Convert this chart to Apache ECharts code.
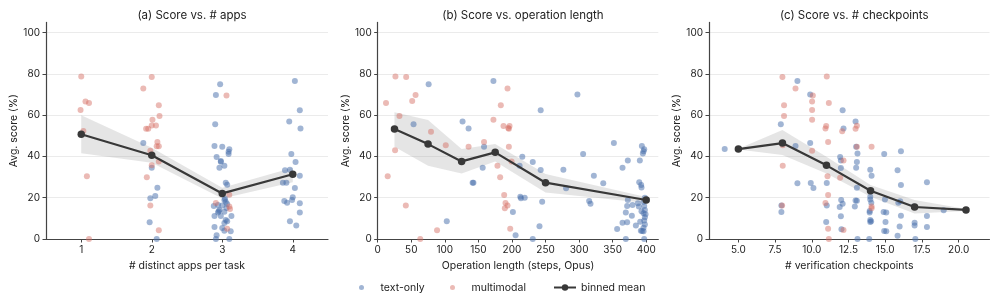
<!DOCTYPE html>
<html>
<head>
<meta charset="utf-8">
<script src="https://cdn.jsdelivr.net/npm/echarts@6/dist/echarts.min.js"></script>
<style>
  html, body { margin: 0; padding: 0; background: #fff; }
  #main { width: 997px; height: 305px; }
</style>
</head>
<body>
<div id="main"></div>
<script>
// panel titles / axis names
var titles = ['(a) Score vs. # apps', '(b) Score vs. operation length', '(c) Score vs. # checkpoints']
var xNames = ['# distinct apps per task', 'Operation length (steps, Opus)', '# verification checkpoints']

// tick labels
var yTicks = [0, 20, 40, 60, 80, 100]
var appsTicks = [1, 2, 3, 4]
var lenTicks = [0, 50, 100, 150, 200, 250, 300, 350, 400]
var ckTicks = [5, 7.5, 10, 12.5, 15, 17.5, 20]

// (a) apps: [x (jittered), score]
var appsText = [[1.88,46.5],[2.0,34.6],[2.08,24.9],[2.05,20.8],[1.98,19.7],[1.97,8.1],[2.07,0],
  [2.97,75],[2.91,69.8],[2.9,55.6],[2.89,45.1],[3.0,44.7],[3.1,43.5],[3.09,42.3],[3.09,41.2],[2.92,39.7],
  [2.98,37.8],[2.98,37.5],[3.03,35.5],[2.96,34.6],[3.05,27.3],[3.07,26.3],[3.03,18.9],[3.05,17.9],[3.07,17],
  [2.94,16.5],[2.88,16],[3.0,16.3],[2.96,14],[3.03,13.2],[2.94,12.8],[2.95,13.5],[2.89,11.1],[2.98,11.1],
  [3.13,11.1],[3.05,9.2],[3.07,8.6],[3.03,7.8],[2.89,5.8],[3.0,5.3],[3.03,4],[3.12,3.7],[2.92,1.8],[2.91,0],
  [3.1,0],[3.04,19.5],[3.06,15],
  [4.03,76.6],[4.1,62.4],[3.95,57],[4.11,53.6],[3.98,41.2],[4.04,37.3],[3.89,33.3],[3.96,33.6],[4.1,30.7],
  [3.86,27.3],[3.91,27.3],[4.03,24.7],[3.88,18.4],[3.92,17.6],[3.99,18.9],[4.0,20.2],[4.1,17.3],[4.1,12.8],
  [3.96,8.6],[4.05,6.6]]
var appsMulti = [[1.0,78.8],[1.06,66.7],[1.11,65.9],[0.99,62.5],[1.03,52.3],[1.08,30.4],[1.11,0],
  [2.0,78.5],[1.88,73],[2.1,64.8],[2.11,59.6],[2.01,57.8],[1.92,53.5],[1.95,53.5],[2.0,55],[2.06,55],
  [2.08,47],[2.07,45],[2.1,45],[1.98,42.8],[2.0,35.7],[2.1,37.6],[1.93,29.9],[1.98,16.2],[2.1,4.2],
  [3.06,69.6],[3.1,21.5],[2.91,17.4],[3.1,15.7],[3.11,14.5],[3.07,5]]
var appsBinX = [1, 2, 3, 4]
var appsMean = [50.8, 40.6, 22.1, 31.4]
var appsHi = [60, 44.2, 24.8, 34.5]
var appsLo = [41.6, 37, 19.6, 27.5]

// (b) operation length
var lenText = [[75.9,75],[53.4,55.6],[102.9,8.6],[126.4,57],[135.4,53.6],[141.4,27.3],[142.6,27.3],[156.4,34.6],
  [158.4,44.7],[172.4,76.6],[201.4,13.1],[205.4,1.8],[212.4,20.5],[213.4,19.7],[219,20],[215.4,39.9],
  [211.4,35.5],[231,37.3],[231,0],[241,6.2],[245,18],[242.8,62.4],[242.8,33.4],[276.6,33.6],[280.6,24.6],
  [297.5,70],[306,41.2],[315,18.4],[317,17.1],[322,30.7],[336,27],[351.8,46.5],[356.7,4.8],[364.7,34.6],
  [364.7,7.9],[369.6,0],[369.6,12.8],[371.6,16],[372.6,18.9],[372.6,38],[371.6,8.1],[378.6,11.3],[379.6,16.5],
  [384.6,6.5],[387.6,17.3],[389.6,27.5],[390.5,38],[392.5,26.2],[393,25],[393.5,45.1],[395,41.5],[396,42.5],
  [397,43.5],[389,15.7],[391,8.4],[392,4],[394,3.9],[396,3.7],[397,0],[396,18],[397,16],[398,14],[396,12.5],
  [398,10.5],[397,9],[398,7],[396,5.5],[398,20],[393,13.5],[399,12]]
var lenMulti = [[12.4,65.9],[26.4,78.8],[42.4,78.5],[56.4,69.8],[51.4,66.9],[32.4,59.6],[25.9,43],[14.9,30.4],
  [41.9,16.2],[63.4,0],[79.4,52],[101.4,45.4],[88.4,4.2],[135.4,44.7],[158.4,47],[172.4,57.8],[183.4,64.8],
  [193.4,73],[187.4,54.8],[196.4,54.8],[195.4,53.5],[194.6,53.8],[195.4,44.7],[199.4,37.6],[178.4,35.5],
  [182.4,29.9],[188.4,21.3],[190.4,17.4],[193.4,16.2],[189.4,14.9],[197.4,5]]
var lenBinX = [25, 75, 125, 175, 250, 400]
var lenMean = [53.3, 46, 37.6, 42, 27.3, 18.9]
var lenHi = [61.4, 57.7, 43.6, 46, 31.5, 20.4]
var lenLo = [44.7, 35.5, 31.8, 37.6, 22.5, 17.4]

// (c) verification checkpoints
var ckText = [[4.07,43.6],[7.89,55.6],[9.02,76.6],[9.89,70],[8.89,45.1],[9.89,46.5],[9.02,27],[9.93,27.1],
  [10.11,24.7],[7.93,16.2],[7.93,13.1],[11.02,27.1],[11.02,16.3],[10.98,8.2],[12.1,62.4],[12.16,53.6],
  [11.93,39.7],[11.98,38],[11.98,34.4],[12.0,18.9],[12.1,17.1],[11.9,15.5],[11.98,11],[12.02,4.7],[12.98,57],
  [13.02,44.7],[13.11,41.4],[13.07,37.3],[13.02,34.6],[13.07,24.9],[12.98,18.7],[13.07,18.6],[12.93,15.7],
  [13.11,0],[13.98,33.6],[14.07,30.7],[13.98,20.5],[13.98,19.2],[14.05,17.6],[13.94,13.6],[13.94,12.8],
  [13.98,9.2],[13.98,8.2],[14.04,8.6],[13.91,0],[14.93,41.2],[16.07,42.5],[14.98,19.2],[14.89,13.1],
  [15.07,12.8],[15.02,8.2],[14.93,3.9],[15.07,3.7],[15.84,33.3],[16.07,26.2],[16.02,18.3],[15.89,17.6],
  [16.07,11.3],[15.98,6.1],[15.84,1.6],[16.95,15.7],[17.0,7.9],[17.0,6.6],[17.05,0],[17.84,27.5],
  [17.84,11.1],[17.84,5.8],[18.98,13.9]]
var ckMulti = [[8.0,78.5],[8.89,73],[8.11,64.8],[8.11,59.6],[8.02,45.4],[8.02,35.5],[7.98,16.2],[10.07,69.6],
  [10.02,66.7],[10.02,62.5],[10.02,57.8],[10.02,42.8],[11.02,78.8],[11.16,65.9],[10.98,54.8],[10.93,53.6],
  [11.11,47],[11.07,30.4],[11.11,21.3],[10.93,17.4],[11.11,5],[11.16,0],[12.07,52.2],[12.16,38],[11.93,29.7],
  [12.16,4.4],[12.98,53.5],[13.07,54.9],[13.07,44.7],[14.07,44.7],[14.07,15.7],[14.07,14.9]]
var ckBinX = [5, 8, 11, 14, 17, 20.5]
var ckMean = [43.6, 46.5, 35.7, 23.4, 15.5, 14.1]
var ckHi = [43.8, 52.8, 39.9, 26.2, 18.9, 14.6]
var ckLo = [43.4, 40.7, 31.8, 20.5, 12.4, 13.6]

var FONT = 'Inter'
var BLUE = 'rgba(70,110,170,0.64)'
var RED = 'rgba(214,110,100,0.6)'
var DARK = '#383838'
var AXIS = '#444'

var panels = [
  { left: 46, width: 282, xmin: 0.5, xmax: 4.5, ticks: appsTicks, fmt: null,
    text: appsText, multi: appsMulti, bx: appsBinX, mean: appsMean, hi: appsHi, lo: appsLo },
  { left: 377.7, width: 280.6, xmin: 0, xmax: 418, ticks: lenTicks, fmt: null,
    text: lenText, multi: lenMulti, bx: lenBinX, mean: lenMean, hi: lenHi, lo: lenLo },
  { left: 709, width: 280.5, xmin: 3, xmax: 22.1, ticks: ckTicks, fmt: function (v) { return v.toFixed(1) },
    text: ckText, multi: ckMulti, bx: ckBinX, mean: ckMean, hi: ckHi, lo: ckLo }
]

var grid = [], xAxis = [], yAxis = [], series = [], title = []

panels.forEach(function (p, i) {
  grid.push({ left: p.left, top: 22.4, width: p.width, height: 216.6 })
  title.push({
    text: titles[i], left: p.left + p.width / 2, top: 5, textAlign: 'center',
    textStyle: { fontFamily: FONT, fontSize: 11.5, fontWeight: 'normal', color: '#222' }
  })
  xAxis.push({
    type: 'value', gridIndex: i, min: p.xmin, max: p.xmax,
    name: xNames[i], nameLocation: 'middle', nameGap: 20,
    nameTextStyle: { fontFamily: FONT, fontSize: 10.5, color: '#222' },
    axisLine: { lineStyle: { color: AXIS, width: 1.2 } },
    axisTick: { show: true, length: 3.5, customValues: p.ticks, lineStyle: { color: AXIS } },
    axisLabel: { customValues: p.ticks, formatter: p.fmt || undefined, margin: 6,
      fontFamily: FONT, fontSize: 10, color: '#222' },
    splitLine: { show: false }
  })
  yAxis.push({
    type: 'value', gridIndex: i, min: 0, max: 105,
    name: 'Avg. score (%)', nameLocation: 'middle', nameGap: 26,
    nameTextStyle: { fontFamily: FONT, fontSize: 10.5, color: '#222' },
    axisLine: { show: true, lineStyle: { color: AXIS, width: 1.2 } },
    axisTick: { show: true, length: 3.5, customValues: yTicks, lineStyle: { color: AXIS } },
    axisLabel: { customValues: yTicks, margin: 6, fontFamily: FONT, fontSize: 10, color: '#222' },
    splitLine: { show: true, lineStyle: { color: '#ebebeb', width: 1 } }
  })

  var band = p.bx.map(function (x, k) { return [x, p.lo[k], p.hi[k]] })
  series.push({
    type: 'custom', xAxisIndex: i, yAxisIndex: i, silent: true, z: 1,
    data: band,
    encode: { x: 0, y: [1, 2] },
    renderItem: function (params, api) {
      if (params.dataIndex !== 0) return
      var pts = []
      p.bx.forEach(function (x, k) { pts.push(api.coord([x, p.hi[k]])) })
      for (var k = p.bx.length - 1; k >= 0; k--) pts.push(api.coord([p.bx[k], p.lo[k]]))
      return { type: 'polygon', shape: { points: pts }, style: { fill: 'rgba(160,160,160,0.28)' } }
    }
  })
  series.push({
    name: 'text-only', type: 'scatter', xAxisIndex: i, yAxisIndex: i, z: 2,
    symbolSize: 6, data: p.text, itemStyle: { color: BLUE }
  })
  series.push({
    name: 'multimodal', type: 'scatter', xAxisIndex: i, yAxisIndex: i, z: 2,
    symbolSize: 6, data: p.multi, itemStyle: { color: RED }
  })
  series.push({
    name: 'binned mean', type: 'line', xAxisIndex: i, yAxisIndex: i, z: 3,
    data: p.bx.map(function (x, k) { return [x, p.mean[k]] }),
    symbol: 'circle', symbolSize: 7.5, showSymbol: true,
    lineStyle: { color: DARK, width: 2.2 }, itemStyle: { color: DARK }
  })
})

var legendText = { fontFamily: FONT, fontSize: 10.5, color: '#222' }
var legend = [
  { data: [{ name: 'text-only', icon: 'circle' }], left: 354, top: 277, itemWidth: 28, itemHeight: 5,
    textStyle: legendText, selectedMode: false },
  { data: [{ name: 'multimodal', icon: 'circle' }], left: 445, top: 277, itemWidth: 28, itemHeight: 5,
    textStyle: legendText, selectedMode: false },
  { data: ['binned mean'], left: 548, top: 277, itemWidth: 22, itemHeight: 8,
    textStyle: legendText, selectedMode: false }
]

var chart = echarts.init(document.getElementById('main'), null, { renderer: 'canvas' })
chart.setOption({
  animation: false,
  backgroundColor: '#fff',
  title: title,
  legend: legend,
  grid: grid,
  xAxis: xAxis,
  yAxis: yAxis,
  series: series
})
</script>
</body>
</html>
